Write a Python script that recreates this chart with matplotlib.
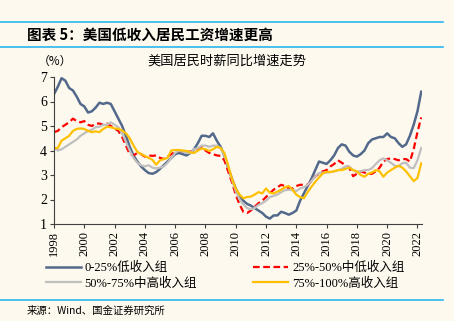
import numpy as np
import matplotlib.pyplot as plt
from matplotlib.lines import Line2D

plt.rcParams['font.family'] = ['Liberation Serif', 'Noto Sans CJK SC']
cjk = ['Noto Sans CJK SC', 'DejaVu Sans']

# 季度数据 1998Q1 - 2022Q2
years = 1998 + np.arange(98) * 0.25

low = [6.3, 6.6, 6.95, 6.85, 6.55, 6.45, 6.2, 5.9,
       5.8, 5.55, 5.6, 5.75, 5.95, 5.9, 5.95, 5.9,
       5.6, 5.3, 5.0, 4.6, 4.15, 3.8, 3.55, 3.35,
       3.2, 3.08, 3.05, 3.12, 3.25, 3.4, 3.55, 3.7,
       3.85, 3.9, 3.85, 3.8, 3.9, 4.05, 4.3, 4.6,
       4.6, 4.55, 4.7, 4.4, 4.15, 3.8, 3.3, 2.85,
       2.45, 2.15, 1.95, 1.82, 1.75, 1.65, 1.55, 1.45,
       1.3, 1.22, 1.35, 1.35, 1.5, 1.45, 1.38, 1.45,
       1.55, 1.95, 2.25, 2.55, 2.85, 3.2, 3.55, 3.5,
       3.45, 3.6, 3.8, 4.1, 4.25, 4.2, 3.95, 3.8,
       3.75, 3.85, 4.0, 4.3, 4.45, 4.5, 4.55, 4.55,
       4.7, 4.55, 4.5, 4.3, 4.15, 4.25, 4.6, 5.05,
       5.6, 6.4]

mid_low = [4.75, 4.8, 4.95, 5.05, 5.15, 5.3, 5.2, 5.15,
           5.2, 5.05, 5.0, 5.1, 5.1, 5.05, 5.1, 5.0,
           4.9, 4.8, 4.55, 4.2, 3.85, 3.8, 3.9, 3.85,
           3.75, 3.8, 3.78, 3.8, 3.7, 3.65, 3.75, 3.85,
           3.95, 4.0, 3.95, 3.95, 3.95, 4.0, 4.05, 4.15,
           4.0, 3.9, 3.85, 3.8, 3.78, 3.6, 3.15, 2.7,
           2.2, 1.8, 1.5, 1.45, 1.55, 1.7, 1.85, 1.95,
           2.1, 2.25, 2.4, 2.5, 2.6, 2.55, 2.45, 2.45,
           2.55, 2.6, 2.6, 2.6, 2.75, 2.95, 3.05, 3.15,
           3.2, 3.35, 3.45, 3.6, 3.5, 3.4, 3.3, 2.95,
           3.05, 3.15, 3.1, 3.05, 3.05, 3.15, 3.3, 3.55,
           3.65, 3.68, 3.65, 3.6, 3.65, 3.65, 3.55, 4.05,
           4.75, 5.35]

mid_high = [4.1, 4.0, 4.05, 4.15, 4.25, 4.35, 4.45, 4.6,
            4.7, 4.8, 4.85, 4.95, 4.97, 5.05, 5.05, 5.15,
            5.05, 4.95, 4.7, 4.35, 4.0, 3.7, 3.5, 3.4,
            3.35, 3.4, 3.3, 3.27, 3.3, 3.35, 3.5, 3.7,
            3.9, 4.0, 3.95, 3.9, 3.9, 4.05, 4.1, 4.2,
            4.2, 4.15, 4.2, 4.2, 4.1, 3.8, 3.35, 2.8,
            2.35, 2.0, 1.8, 1.65, 1.6, 1.65, 1.78, 1.85,
            1.95, 2.1, 2.15, 2.2, 2.3, 2.38, 2.4, 2.38,
            2.35, 2.45, 2.5, 2.6, 2.75, 2.95, 3.08, 3.1,
            3.1, 3.12, 3.15, 3.2, 3.25, 3.35, 3.35, 3.2,
            3.12, 3.15, 3.2, 3.2, 3.28, 3.45, 3.6, 3.68,
            3.6, 3.5, 3.38, 3.35, 3.48, 3.5, 3.3, 3.28,
            3.6, 4.1]

high = [4.1, 4.1, 4.4, 4.5, 4.6, 4.8, 4.88, 4.9,
        4.88, 4.8, 4.75, 4.78, 4.75, 4.88, 4.97, 4.95,
        4.9, 4.88, 4.82, 4.7, 4.5, 4.2, 3.95, 3.85,
        3.78, 3.7, 3.62, 3.42, 3.6, 3.65, 3.7, 4.0,
        4.02, 4.02, 4.0, 3.98, 3.92, 3.9, 4.0, 4.08,
        4.05, 3.98, 4.05, 4.15, 4.1, 3.9, 3.4, 2.85,
        2.45, 2.2, 2.05, 2.1, 2.12, 2.2, 2.3, 2.25,
        2.45, 2.28, 2.25, 2.32, 2.4, 2.5, 2.55, 2.4,
        2.2, 2.1, 2.05, 2.3, 2.52, 2.72, 2.9, 3.07,
        3.13, 3.12, 3.15, 3.2, 3.2, 3.25, 3.3, 3.2,
        3.15, 3.0, 2.93, 3.05, 3.1, 3.2, 3.15, 2.93,
        3.1, 3.2, 3.3, 3.38, 3.3, 3.15, 2.95, 2.75,
        2.88, 3.48]

labels = ['0-25%低收入组', '25%-50%中低收入组', '50%-75%中高收入组', '75%-100%高收入组']
xticks = list(range(1998, 2023, 2))

bg = '#FDF9EE'
fig = plt.figure(figsize=(4.54, 3.21), dpi=100, facecolor=bg)

# 标题和分隔线
for yy in [22, 47, 300]:
    fig.add_artist(Line2D([0.0, 0.976], [1 - yy / 321, 1 - yy / 321], color='#29B6EE', lw=1.2))
fig.text(0.059, 1 - 35 / 321, '图表 5：美国低收入居民工资增速更高', family=cjk,
         fontsize=10.5, fontweight='bold', style='italic', va='center')
fig.text(0.059, 1 - 311 / 321, '来源：Wind、国金证券研究所', family=cjk,
         fontsize=7.5, va='center')

ax = fig.add_axes([54 / 454, 1 - 224 / 321, (422 - 54) / 454, (224 - 77) / 321])
ax.set_facecolor(bg)

l0, = ax.plot(years, low, color='#53698C', lw=1.8)
l1, = ax.plot(years, mid_low, color='#FF0000', lw=1.6, dashes=(3, 1.6))
l2, = ax.plot(years, mid_high, color='#BFBFBF', lw=1.6)
l3, = ax.plot(years, high, color='#FFC000', lw=1.6)

ax.set_xlim(1998, 2022.3)
ax.set_ylim(1, 7)
ax.set_xticks(xticks)
ax.set_xticklabels([str(y) for y in xticks], rotation=90, fontsize=9)
ax.set_yticks(range(1, 8))
ax.tick_params(axis='y', labelsize=10, length=3, color='#404040', pad=2)
ax.tick_params(axis='x', length=3, color='#404040', pad=2)
for s in ['top', 'right']:
    ax.spines[s].set_visible(False)
for s in ['left', 'bottom']:
    ax.spines[s].set_color('#404040')
    ax.spines[s].set_linewidth(0.8)

fig.text(38 / 454, 1 - 61 / 321, '（%）', family=cjk, fontsize=8.5, va='center', ha='left')
ax.set_title('美国居民时薪同比增速走势', family=cjk, fontsize=9.5, pad=9, x=0.47)

# 图例按行排列
fig.legend([l0, l2, l1, l3], [labels[0], labels[2], labels[1], labels[3]],
           loc='upper left', bbox_to_anchor=(0.09, 1 - 257 / 321), ncol=2,
           frameon=False, fontsize=9, handlelength=2.8, handletextpad=0.3,
           columnspacing=4.5, labelspacing=0.25, borderaxespad=0)

fig.savefig('out.png', dpi=100, facecolor=bg)
